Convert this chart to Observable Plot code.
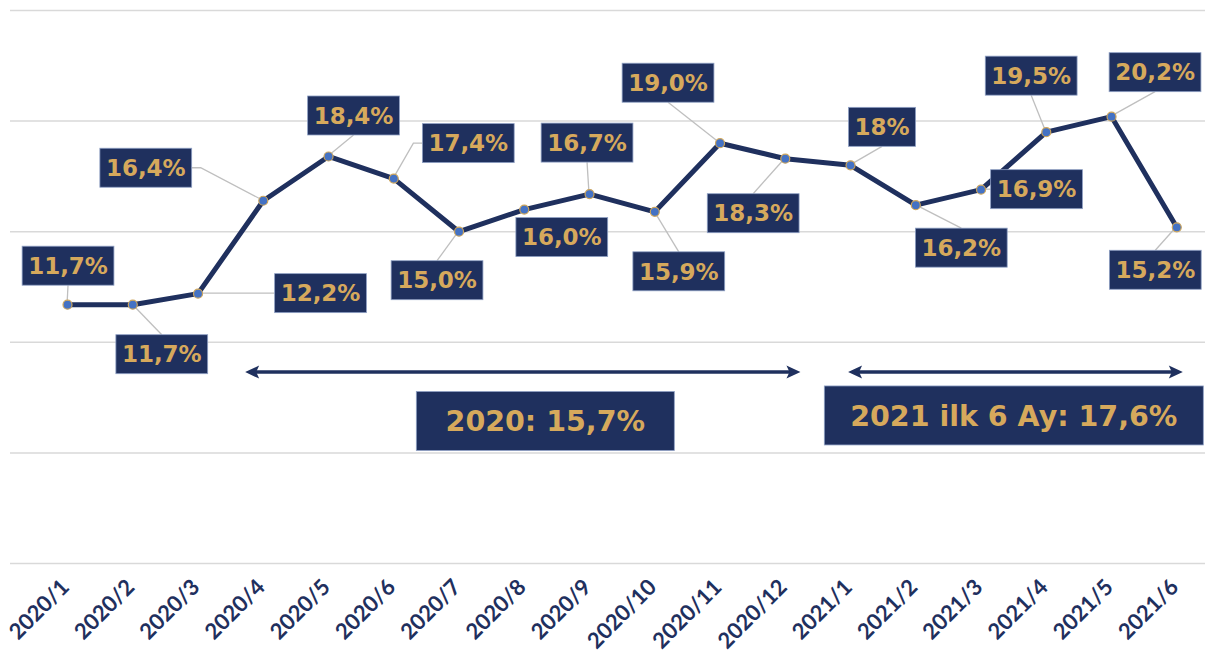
<!DOCTYPE html>
<html><head><meta charset="utf-8">
<script src="https://cdn.jsdelivr.net/npm/d3@7"></script>
<script src="https://cdn.jsdelivr.net/npm/@observablehq/plot@0.6"></script>
<style>body{margin:0;background:#fff}</style>
</head><body><div id="chart"></div>
<script>
// ---- data ----
const months = ["2020/1","2020/2","2020/3","2020/4","2020/5","2020/6","2020/7","2020/8","2020/9","2020/10","2020/11","2020/12","2021/1","2021/2","2021/3","2021/4","2021/5","2021/6"];
const values = [11.7, 11.7, 12.2, 16.4, 18.4, 17.4, 15.0, 16.0, 16.7, 15.9, 19.0, 18.3, 18.0, 16.2, 16.9, 19.5, 20.2, 15.2];
const valueLabels = ["11,7%","11,7%","12,2%","16,4%","18,4%","17,4%","15,0%","16,0%","16,7%","15,9%","19,0%","18,3%","18%","16,2%","16,9%","19,5%","20,2%","15,2%"];
const periodTexts = ["2020: 15,7%", "2021 ilk 6 Ay: 17,6%"];

// ---- layout (label placement: pixel offset of the label box centre from its point) ----
const labelDx = [1, 29.5, 123, -117, 25.5, 75, -21.5, 38, -2, 24.5, -51.5, -31.6, 32, 46, 56, -14.6, 44, -21];
const labelDy = [-38.5, 50, 0, -32.5, -40.5, -35, 49, 28, -51, 60, -60, 55, -38, 43, 0, -56, -44, 43];
const leaderSide = ["bottom","top","left","right","bottom","left","top","none","bottom","top","bottom","top","bottom","top","left","bottom","bottom","top"];
// period annotations, in data units (x = month index, y = value)
const periodArrowFrom = [2.73, 11.97];
const periodArrowTo = [11.24, 17.1];
const periodArrowY = [8.63, 8.63];
const periodBoxX = [7.33, 14.51];
const periodBoxY = [6.42, 6.67];
const periodBoxW = [258, 379];

const NAVY = "#1F305E", GOLD = "#D6A95C", LABEL_FONT = "'DejaVu Sans', Verdana, sans-serif";
const data = months.map((m, i) => ({i, month: m, value: values[i], label: valueLabels[i]}));

const chart = Plot.plot({
  width: 1205, height: 655,
  marginLeft: 10, marginRight: 0, marginTop: 10, marginBottom: 92,
  x: {type: "linear", domain: [-0.874, 17.44], axis: null},
  y: {domain: [0, 25], axis: null},
  style: {background: "#fff", overflow: "visible"},
  marks: [
    Plot.ruleY(d3.range(0, 26, 5), {stroke: "#D9D9D9", strokeWidth: 1.5}),
    Plot.line(data, {x: "i", y: "value", stroke: NAVY, strokeWidth: 5, strokeLinejoin: "round"}),
    Plot.dot(data, {x: "i", y: "value", r: 4.5, fill: "#4472C4", stroke: "#CDA55C", strokeWidth: 1.2}),
    Plot.text(data, {x: "i", text: "month", frameAnchor: "bottom", rotate: -45, textAnchor: "end",
      dx: 3, dy: 25, fill: NAVY, fontSize: 22, fontWeight: "bold", fontFamily: "Lato"})
  ]
});
document.getElementById("chart").appendChild(chart);

const xs = chart.scale("x"), ys = chart.scale("y");
const X = d3.scaleLinear(xs.domain, xs.range), Y = d3.scaleLinear(ys.domain, ys.range);
const svg = d3.select(chart);

// leader lines below the line
const leaders = svg.insert("g", 'g[aria-label="line"]')
  .attr("fill", "none").attr("stroke", "#BFBFBF").attr("stroke-width", 1.3);
const lab = svg.append("g");
data.forEach((d, k) => {
  const px = X(d.i), py = Y(d.value);
  const cx = px + labelDx[k], cy = py + labelDy[k];
  const g = lab.append("g");
  const rect = g.append("rect");
  const t = g.append("text").attr("x", cx).attr("y", cy + 23 * 0.36)
    .attr("text-anchor", "middle").attr("fill", GOLD)
    .attr("font-family", LABEL_FONT).attr("font-weight", "bold").attr("font-size", 23)
    .text(d.label);
  const w = t.node().getComputedTextLength() + 12, h = 39;
  rect.attr("x", cx - w / 2).attr("y", cy - h / 2).attr("width", w).attr("height", h)
    .attr("fill", NAVY).attr("stroke", "#8FA0C4").attr("stroke-width", 0.8);
  let pts = null;
  const side = leaderSide[k];
  if (side === "bottom") pts = [[px, py], [cx, cy + h / 2]];
  else if (side === "top") pts = [[px, py], [cx, cy - h / 2]];
  else if (side === "left") pts = [[px, py], [cx - w / 2 - 9, cy], [cx - w / 2, cy]];
  else if (side === "right") pts = [[px, py], [cx + w / 2 + 9, cy], [cx + w / 2, cy]];
  if (pts) leaders.append("path").attr("d", d3.line()(pts));
});

// period arrows and boxes
const ann = svg.append("g");
periodTexts.forEach((txt, k) => {
  const x1 = X(periodArrowFrom[k]), x2 = X(periodArrowTo[k]), y = Y(periodArrowY[k]);
  ann.append("line").attr("x1", x1 + 8).attr("x2", x2 - 8).attr("y1", y).attr("y2", y)
    .attr("stroke", NAVY).attr("stroke-width", 3.5);
  ann.append("path").attr("fill", NAVY)
    .attr("d", `M${x1},${y}L${x1 + 14},${y - 6.5}L${x1 + 11},${y}L${x1 + 14},${y + 6.5}Z`);
  ann.append("path").attr("fill", NAVY)
    .attr("d", `M${x2},${y}L${x2 - 14},${y - 6.5}L${x2 - 11},${y}L${x2 - 14},${y + 6.5}Z`);
  const bx = X(periodBoxX[k]), by = Y(periodBoxY[k]), bw = periodBoxW[k], bh = 59;
  ann.append("rect").attr("x", bx - bw / 2).attr("y", by - bh / 2).attr("width", bw).attr("height", bh)
    .attr("fill", NAVY).attr("stroke", "#8FA0C4").attr("stroke-width", 0.8);
  ann.append("text").attr("x", bx).attr("y", by + 28.5 * 0.36).attr("text-anchor", "middle")
    .attr("fill", GOLD).attr("font-family", LABEL_FONT).attr("font-weight", "bold").attr("font-size", 28.5)
    .text(txt);
});
</script>
</body></html>
